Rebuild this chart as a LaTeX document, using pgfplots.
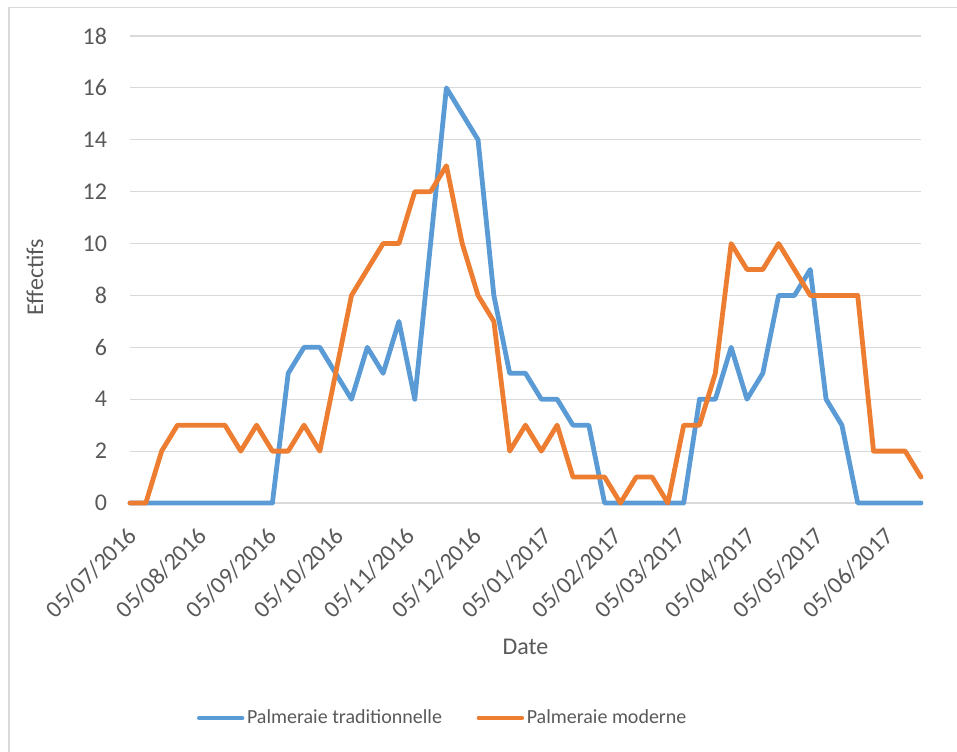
\documentclass[border=0pt]{standalone}
\usepackage{fontspec}
\setmainfont{Carlito}
\usepackage{pgfplots}
\pgfplotsset{compat=1.18}
\definecolor{tblue}{HTML}{5B9BD5}
\definecolor{torange}{HTML}{ED7D31}
\definecolor{txtgray}{HTML}{595959}
\definecolor{gridgray}{HTML}{D9D9D9}
\begin{document}
\begin{tikzpicture}
\useasboundingbox (0pt,0pt) rectangle (717.75pt,563.25pt);
\draw[gridgray, line width=1.1pt] (6.75pt,-10pt) rectangle (730pt,557.6pt);
\begin{axis}[
  at={(97.5pt,186pt)}, anchor=south west,
  scale only axis, width=593.25pt, height=350.25pt,
  xmin=0, xmax=350, ymin=0, ymax=18,
  clip=false,
  ytick={0,2,...,18},
  xtick={0,31,62,92,123,153,184,215,243,274,304,335},
  xticklabels={05/07/2016,05/08/2016,05/09/2016,05/10/2016,05/11/2016,05/12/2016,05/01/2017,05/02/2017,05/03/2017,05/04/2017,05/05/2017,05/06/2017},
  ymajorgrids, grid style={gridgray, line width=0.8pt},
  axis line style={draw=none}, major tick length=0pt,
  /pgf/number format/assume math mode=true,
  ticklabel style={font=\fontsize{18}{22}\selectfont, text=txtgray},
  yticklabel style={anchor=east, inner sep=0pt, xshift=-17pt},
  xticklabel style={rotate=45, anchor=north east, inner sep=0pt, xshift=-14pt, yshift=-9.6pt},
  xlabel={Date}, ylabel={Effectifs},
  label style={font=\fontsize{18}{22}\selectfont, text=txtgray},
  xlabel style={at={(axis description cs:0.5,-0.3084)}, anchor=center},
  ylabel style={at={(axis description cs:-0.1201,0.484)}, anchor=center},
  legend columns=2,
  legend style={at={(0.3957,-0.4604)}, anchor=center, draw=none, fill=none,
    font=\fontsize{15}{18}\selectfont, text=txtgray,
    /tikz/every even column/.append style={column sep=24pt}},
  legend image code/.code={\draw[#1, line cap=round] (0pt,0pt) -- (32pt,0pt);},
  every axis plot/.append style={line width=3.6pt, line join=round, line cap=round},
]
\addplot[tblue] coordinates {
(0,0)(7,0)(14,0)(21,0)(28,0)(35,0)(42,0)(49,0)(56,0)(63,0)
(70,5)(77,6)(84,6)(91,5)(98,4)(105,6)(112,5)(119,7)(126,4)(133,10)
(140,16)(147,15)(154,14)(161,8)(168,5)(175,5)(182,4)(189,4)(196,3)(203,3)
(210,0)(217,0)(224,0)(231,0)(238,0)(245,0)(252,4)(259,4)(266,6)(273,4)
(280,5)(287,8)(294,8)(301,9)(308,4)(315,3)(322,0)(329,0)(336,0)(343,0)(350,0)};
\addlegendentry{Palmeraie traditionnelle}
\addplot[torange] coordinates {
(0,0)(7,0)(14,2)(21,3)(28,3)(35,3)(42,3)(49,2)(56,3)(63,2)
(70,2)(77,3)(84,2)(91,5)(98,8)(105,9)(112,10)(119,10)(126,12)(133,12)
(140,13)(147,10)(154,8)(161,7)(168,2)(175,3)(182,2)(189,3)(196,1)(203,1)
(210,1)(217,0)(224,1)(231,1)(238,0)(245,3)(252,3)(259,5)(266,10)(273,9)
(280,9)(287,10)(294,9)(301,8)(308,8)(315,8)(322,8)(329,2)(336,2)(343,2)(350,1)};
\addlegendentry{Palmeraie moderne}
\end{axis}
\end{tikzpicture}
\end{document}
